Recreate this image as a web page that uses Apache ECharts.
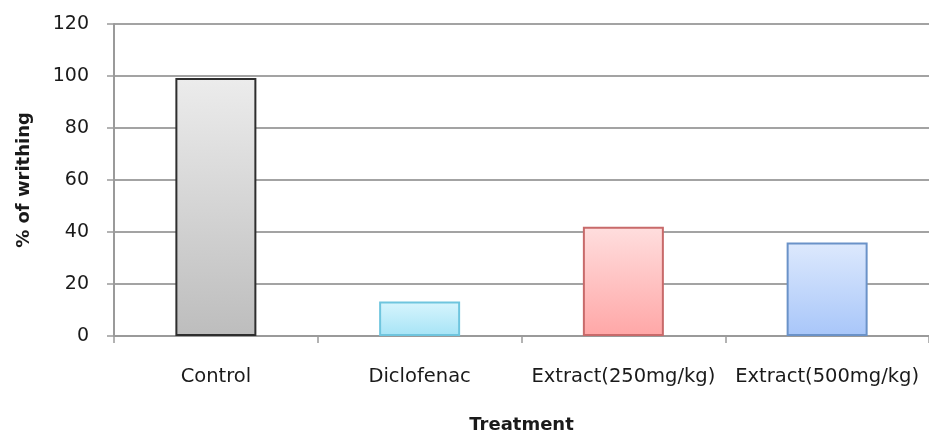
<!DOCTYPE html>
<html><head><meta charset="utf-8">
<script src="https://cdn.jsdelivr.net/npm/echarts@6/dist/echarts.min.js"></script>
<style>html,body{margin:0;padding:0;background:#fff}#c{width:929px;height:436px}</style>
</head><body><div id="c"></div>
<script>
const categories = ['Control', 'Diclofenac', 'Extract(250mg/kg)', 'Extract(500mg/kg)'];
const values = [99.2, 13.3, 42, 36];
const yTicks = [0, 20, 40, 60, 80, 100, 120];
const barTop = ['#ececec', '#d8f5fd', '#ffdede', '#dde9fd'];
const barBottom = ['#bdbdbd', '#a6e4f6', '#ffa7a7', '#a8c6f9'];
const barBorder = ['#2e2e2e', '#6fc5de', '#c86a6a', '#6a92c8'];

const chart = echarts.init(document.getElementById('c'));
const font = 'DejaVu Sans, sans-serif';
chart.setOption({
  animation: false,
  grid: { left: 114, right: 0, top: 24, bottom: 100, outerBoundsMode: 'none', containLabel: false },
  xAxis: {
    type: 'category', data: categories,
    name: 'Treatment', nameLocation: 'middle', nameGap: 80,
    nameTextStyle: { fontFamily: font, fontSize: 18, fontWeight: 'bold', color: '#1a1a1a' },
    axisLine: { lineStyle: { color: '#9a9a9a', width: 2 } },
    axisTick: { show: true, length: 7, lineStyle: { color: '#9a9a9a', width: 1.5 } },
    axisLabel: { fontFamily: font, fontSize: 19.5, color: '#1a1a1a', margin: 31, interval: 0 }
  },
  yAxis: {
    type: 'value', min: 0, max: 120, interval: 20,
    name: '% of writhing', nameLocation: 'middle', nameGap: 81, nameRotate: 90,
    nameTextStyle: { fontFamily: font, fontSize: 18, fontWeight: 'bold', color: '#1a1a1a' },
    axisLine: { show: true, lineStyle: { color: '#9a9a9a', width: 2 } },
    axisTick: { show: true, length: 7, lineStyle: { color: '#9a9a9a', width: 1.5 } },
    splitLine: { lineStyle: { color: '#a3a3a3', width: 2 } },
    axisLabel: { fontFamily: font, fontSize: 19, color: '#1a1a1a', margin: 25,
      formatter: v => yTicks.includes(v) ? String(v) : '' }
  },
  series: [{
    type: 'bar', barWidth: 81,
    data: values.map((v, i) => ({
      value: v,
      itemStyle: {
        color: new echarts.graphic.LinearGradient(0, 0, 0, 1, [
          { offset: 0, color: barTop[i] }, { offset: 1, color: barBottom[i] }
        ]),
        borderColor: barBorder[i], borderWidth: 2
      }
    }))
  }]
});
</script></body></html>
